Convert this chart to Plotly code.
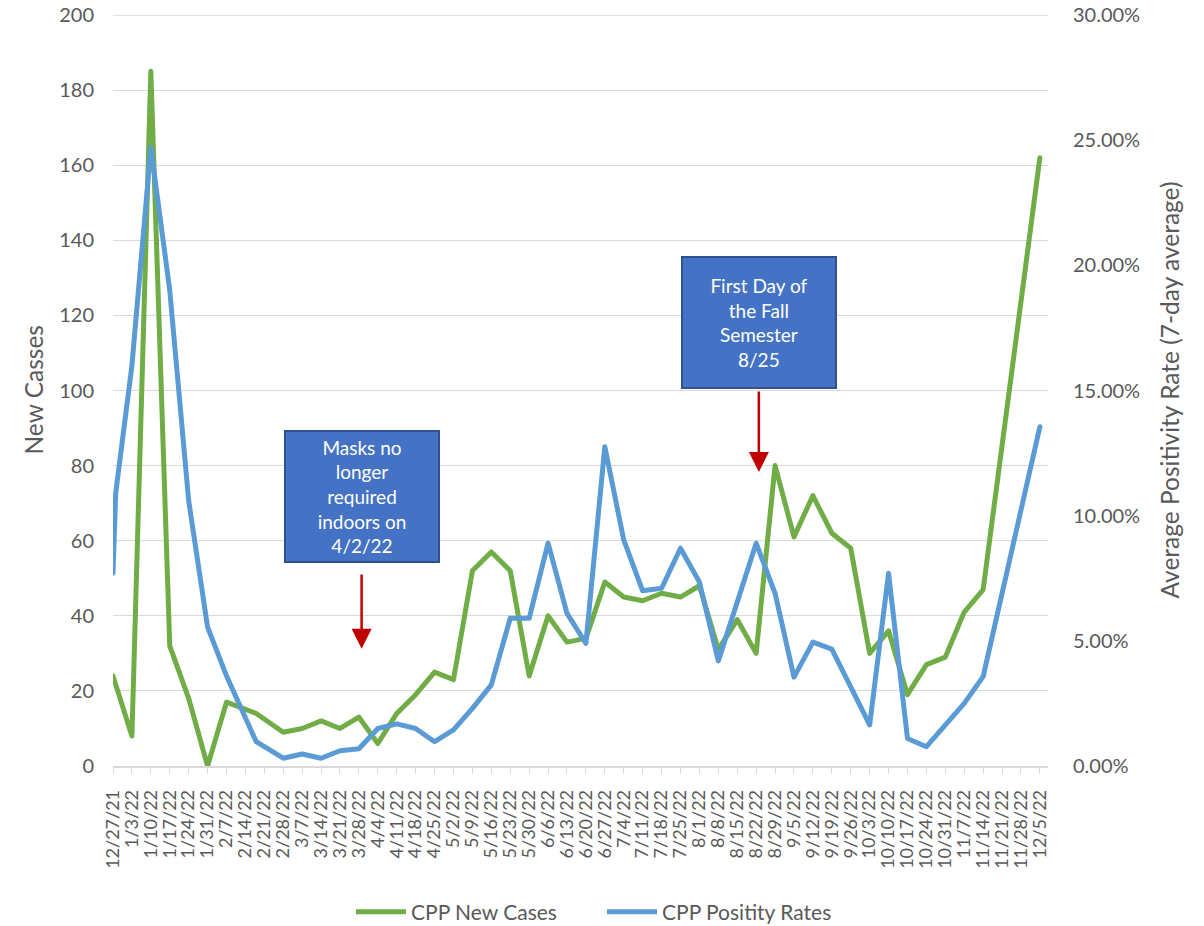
import plotly.graph_objects as go
import pandas as pd

dates = ["2021-12-27", "2021-12-28", "2022-01-03", "2022-01-10", "2022-01-17", "2022-01-24",
         "2022-01-31", "2022-02-07", "2022-02-18", "2022-02-28", "2022-03-07", "2022-03-14",
         "2022-03-21", "2022-03-28", "2022-04-04", "2022-04-11", "2022-04-18", "2022-04-25",
         "2022-05-02", "2022-05-09", "2022-05-16", "2022-05-23", "2022-05-30", "2022-06-06",
         "2022-06-13", "2022-06-20", "2022-06-27", "2022-07-04", "2022-07-11", "2022-07-18",
         "2022-07-25", "2022-08-01", "2022-08-08", "2022-08-15", "2022-08-22", "2022-08-29",
         "2022-09-05", "2022-09-12", "2022-09-19", "2022-09-26", "2022-10-03", "2022-10-10",
         "2022-10-17", "2022-10-24", "2022-10-31", "2022-11-07", "2022-11-14", "2022-12-05"]

new_cases = [24, None, 8, 185, 32, 18, 0, 17, 14, 9, 10, 12, 10, 13, 6, 14, 19, 25,
             23, 52, 57, 52, 24, 40, 33, 34, 49, 45, 44, 46, 45, 48, 31, 39, 30, 80,
             61, 72, 62, 58, 30, 36, 19, 27, 29, 41, 47, 162]

positivity_pct = [7.7, 10.9, 16.0, 24.7, 19.0, 10.6, 5.55, 3.6, 0.97, 0.31, 0.48, 0.31,
                  0.61, 0.69, 1.5, 1.68, 1.5, 0.97, 1.44, 2.3, 3.24, 5.9, 5.9, 8.9,
                  6.1, 4.9, 12.75, 9.03, 7.0, 7.1, 8.7, 7.35, 4.2, 6.6, 8.9, 6.9,
                  3.55, 4.95, 4.67, 3.16, 1.64, 7.7, 1.1, 0.77, 1.64, 2.5, 3.57, 13.55]

tick_labels = ["12/27/21", "1/3/22", "1/10/22", "1/17/22", "1/24/22", "1/31/22", "2/7/22",
               "2/14/22", "2/21/22", "2/28/22", "3/7/22", "3/14/22", "3/21/22", "3/28/22",
               "4/4/22", "4/11/22", "4/18/22", "4/25/22", "5/2/22", "5/9/22", "5/16/22",
               "5/23/22", "5/30/22", "6/6/22", "6/13/22", "6/20/22", "6/27/22", "7/4/22",
               "7/11/22", "7/18/22", "7/25/22", "8/1/22", "8/8/22", "8/15/22", "8/22/22",
               "8/29/22", "9/5/22", "9/12/22", "9/19/22", "9/26/22", "10/3/22", "10/10/22",
               "10/17/22", "10/24/22", "10/31/22", "11/7/22", "11/14/22", "11/21/22",
               "11/28/22", "12/5/22"]

tick_vals = pd.date_range("2021-12-27", periods=len(tick_labels), freq="7D")

GREEN = "#70AD47"
BLUE = "#5B9BD5"
GREY = "#595959"
GRID = "#D9D9D9"
FONT = "Lato"

W, H = 1204, 926
L, T, R, B = 113, 15, 156, 160
PW = W - L - R
Y_MAX = 200

fig = go.Figure()
fig.add_trace(go.Scatter(x=dates, y=new_cases, name="CPP New Cases", mode="lines",
                         line=dict(color=GREEN, width=5), connectgaps=True, yaxis="y"))
fig.add_trace(go.Scatter(x=dates, y=[v / 100 for v in positivity_pct], name="CPP Positity Rates",
                         mode="lines", line=dict(color=BLUE, width=5), connectgaps=True,
                         yaxis="y2"))

fig.update_layout(
    width=W, height=H,
    margin=dict(l=L, r=R, t=T, b=B, autoexpand=False),
    paper_bgcolor="white", plot_bgcolor="white",
    font=dict(family=FONT, color=GREY),
    xaxis=dict(type="date", range=["2021-12-27", "2022-12-08"],
               tickvals=tick_vals, ticktext=tick_labels, tickangle=-90,
               tickfont=dict(size=18, color=GREY, family=FONT),
               ticks="outside", ticklen=6, tickcolor=GRID, tickwidth=1.3,
               showline=True, linecolor=GRID, linewidth=1.5, showgrid=False,
               zeroline=False, ticklabelstandoff=9, automargin=False),
    yaxis=dict(range=[0, Y_MAX], dtick=20, tickfont=dict(size=20, color=GREY, family=FONT),
               showgrid=True, gridcolor=GRID, gridwidth=1.3, zeroline=False,
               showline=False, ticks="", ticklabelstandoff=18, automargin=False),
    yaxis2=dict(range=[0, 0.30], dtick=0.05, tickformat=".2%", overlaying="y", side="right",
                tickfont=dict(size=20, color=GREY, family=FONT), showgrid=False,
                zeroline=False, showline=False, ticks="", ticklabelstandoff=24,
                automargin=False),
    legend=dict(orientation="h", xref="container", yref="container", x=0.5, y=0.0151,
                xanchor="center", yanchor="middle", font=dict(size=21, color=GREY, family=FONT),
                itemwidth=50, entrywidth=186, entrywidthmode="pixels"),
    showlegend=True,
)

# top gridline (plotly drops the gridline on the plot edge)
fig.add_shape(type="line", xref="paper", yref="y", x0=0, x1=1, y0=Y_MAX, y1=Y_MAX,
              line=dict(color=GRID, width=1.3), layer="below")

# axis titles
fig.add_annotation(text="New Casses", xref="paper", yref="paper", x=(33 - L) / PW, y=0.5,
                   xanchor="center", yanchor="middle", textangle=-90, showarrow=False,
                   font=dict(size=24.5, color=GREY, family=FONT))
fig.add_annotation(text="Average Positivity Rate (7-day average)", xref="paper", yref="paper",
                   x=(1169 - L) / PW, y=0.5, xanchor="center", yanchor="middle",
                   textangle=-90, showarrow=False, font=dict(size=24.5, color=GREY, family=FONT))

# callout boxes
box_style = dict(showarrow=False, bgcolor="#4472C4", bordercolor="#2F528F", borderwidth=2,
                 borderpad=0, width=152, height=129, align="center", valign="middle",
                 font=dict(size=19, color="white", family=FONT), xref="x", yref="y")
fig.add_annotation(text="Masks no<br>longer<br>required<br>indoors on<br>4/2/22",
                   x="2022-03-29", y=71.8, **box_style)
fig.add_annotation(text="First Day of<br>the Fall<br>Semester<br>8/25",
                   x="2022-08-23", y=118.2, **box_style)

arrow_style = dict(text="", showarrow=True, arrowhead=2, arrowsize=1.6, arrowwidth=2.5,
                   arrowcolor="#C00000", xref="x", yref="y", axref="x", ayref="y", standoff=0)
fig.add_annotation(x="2022-03-29", y=31.2, ax="2022-03-29", ay=51.4, **arrow_style)
fig.add_annotation(x="2022-08-23", y=78.3, ax="2022-08-23", ay=100.1, **arrow_style)

post = (
    "document.body.style.margin='0px';"
    "document.querySelectorAll('.scatterlayer .js-line').forEach(function(p){"
    "p.style.strokeLinejoin='round';p.style.strokeLinecap='round';});"
)
fig.write_html("out.html", config={"displayModeBar": False}, post_script=post)
